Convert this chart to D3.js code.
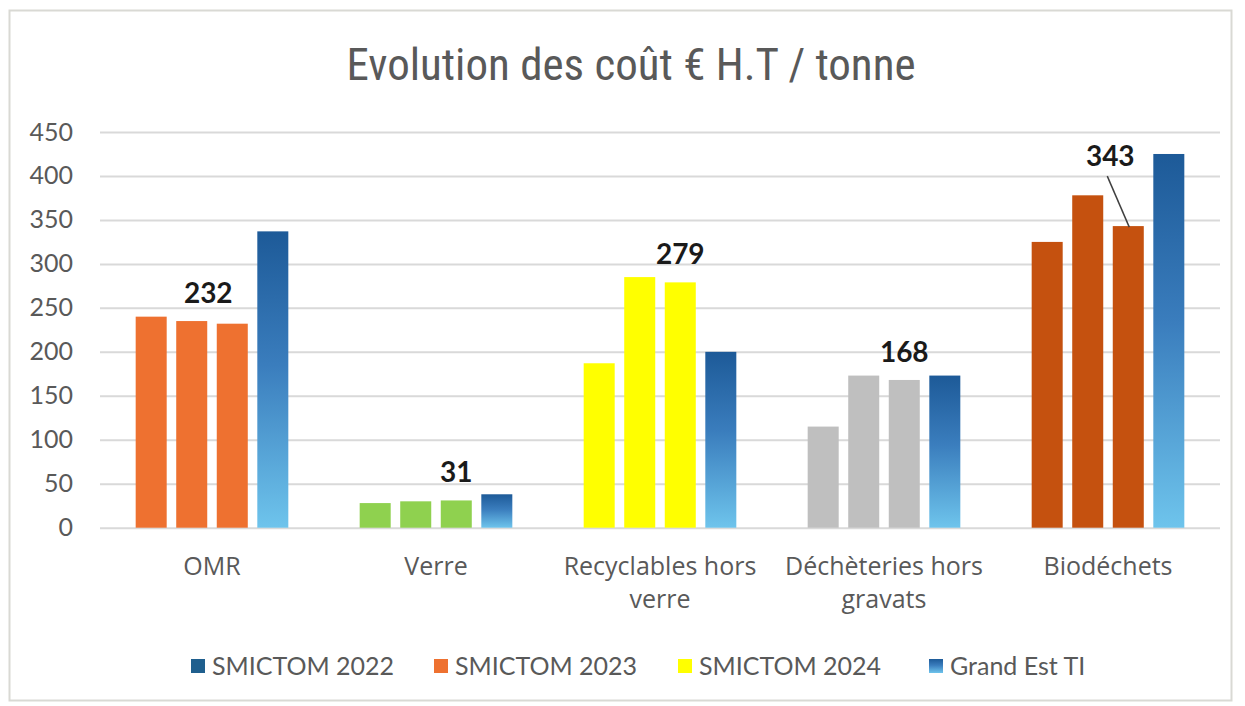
<!DOCTYPE html>
<html>
<head>
<meta charset="utf-8">
<script src="https://cdn.jsdelivr.net/npm/d3@7"></script>
<style>
  body { margin: 0; background: #fff; }
  svg { display: block; }
</style>
</head>
<body>
<svg id="chart"></svg>
<script>
const categories = ["OMR", "Verre", "Recyclables hors verre", "Déchèteries hors gravats", "Biodéchets"];
const series = ["SMICTOM 2022", "SMICTOM 2023", "SMICTOM 2024", "Grand Est TI"];
const smictom2022 = [240, 28, 187, 115, 325];
const smictom2023 = [235, 30, 285, 173, 378];
const smictom2024 = [232, 31, 279, 168, 343];
const grandEst = [337, 38, 200, 173, 425];
const yTicks = [0, 50, 100, 150, 200, 250, 300, 350, 400, 450];
// colours of the three SMICTOM bars in each category
const categoryColors = ["#ee7130", "#8fd14f", "#ffff00", "#bfbfbf", "#c5510f"];
const legendColors = ["#1f5f8e", "#ee7130", "#ffff00", null];

const width = 1245, height = 706;
const margin = { left: 100, right: 25, top: 132, bottom: 179 };

const svg = d3.select("#chart").attr("width", width).attr("height", height);

const defs = svg.append("defs");
const grad = defs.append("linearGradient")
  .attr("id", "blueGrad").attr("x1", 0).attr("y1", 0).attr("x2", 0).attr("y2", 1);
grad.append("stop").attr("offset", "0%").attr("stop-color", "#1d5a98");
grad.append("stop").attr("offset", "45%").attr("stop-color", "#3a7dbd");
grad.append("stop").attr("offset", "100%").attr("stop-color", "#6ec4ec");

// chart frame
svg.append("rect")
  .attr("x", 9.5).attr("y", 10.5)
  .attr("width", 1222).attr("height", 690)
  .attr("fill", "#fff").attr("stroke", "#d9d9d4").attr("stroke-width", 2);

svg.append("text")
  .attr("x", 631).attr("y", 80)
  .attr("text-anchor", "middle")
  .attr("font-family", "'Liberation Sans Narrow', 'Roboto Condensed', sans-serif")
  .attr("font-size", 45)
  .attr("fill", "#595959")
  .text("Evolution des coût € H.T / tonne");

const x0 = d3.scaleBand()
  .domain(categories)
  .range([margin.left, width - margin.right])
  .padding(0);

const x1 = d3.scaleBand()
  .domain(series)
  .range([0, x0.bandwidth()])
  .paddingInner(0.235)
  .paddingOuter(0.88);

const y = d3.scaleLinear()
  .domain([0, 450])
  .range([height - margin.bottom + 0.7, margin.top]);

// grid + y labels
const yAxis = svg.append("g")
  .attr("transform", `translate(${margin.left},0)`)
  .call(d3.axisLeft(y).tickValues(yTicks).tickSize(-(width - margin.left - margin.right)).tickPadding(27))
  .call(g => g.select(".domain").remove());
yAxis.selectAll(".tick line").attr("stroke", "#d9d9d9").attr("stroke-width", 2);
yAxis.selectAll(".tick text")
  .attr("font-family", "Lato, sans-serif")
  .attr("font-size", 25)
  .attr("fill", "#595959");

const valuesBySeries = [smictom2022, smictom2023, smictom2024, grandEst];
const rows = categories.map((c, i) => ({
  category: c,
  index: i,
  values: series.map((s, j) => ({ series: s, j, value: valuesBySeries[j][i] }))
}));

const groups = svg.append("g").selectAll("g")
  .data(rows)
  .join("g")
  .attr("transform", d => `translate(${x0(d.category)},0)`);

groups.selectAll("rect")
  .data(d => d.values.map(v => ({ ...v, index: d.index })))
  .join("rect")
  .attr("x", d => x1(d.series))
  .attr("width", x1.bandwidth())
  .attr("y", d => y(d.value))
  .attr("height", d => y(0) - y(d.value))
  .attr("fill", d => d.j === 3 ? "url(#blueGrad)" : categoryColors[d.index]);

// data labels on SMICTOM 2024 bars
const labelShift = { 0: [-24, -3], 4: [-18, -42] };
const labels = svg.append("g");
rows.forEach(r => {
  const v = r.values[2].value;
  const cx = x0(r.category) + x1(series[2]) + x1.bandwidth() / 2;
  const top = y(v);
  const s = labelShift[r.index] || [0, 0];
  const lx = cx + s[0], ly = top - 18 + s[1];
  if (r.index === 4) {
    labels.append("line")
      .attr("x1", lx - 3).attr("y1", ly + 10)
      .attr("x2", cx + 1).attr("y2", top + 1)
      .attr("stroke", "#404040").attr("stroke-width", 1.5);
  }
  labels.append("text")
    .attr("x", lx).attr("y", ly)
    .attr("text-anchor", "middle")
    .attr("font-family", "Lato, sans-serif")
    .attr("font-weight", "bold")
    .attr("font-size", 28)
    .attr("fill", "#1a1a1a")
    .text(v);
});

// category labels
const catLines = {
  "Recyclables hors verre": ["Recyclables hors", "verre"],
  "Déchèteries hors gravats": ["Déchèteries hors", "gravats"]
};
const cat = svg.append("g");
categories.forEach(c => {
  const lines = catLines[c] || [c];
  const t = cat.append("text")
    .attr("x", x0(c) + x0.bandwidth() / 2)
    .attr("y", 575)
    .attr("text-anchor", "middle")
    .attr("font-family", "'Open Sans', sans-serif")
    .attr("font-size", 25)
    .attr("fill", "#595959");
  lines.forEach((l, k) => {
    t.append("tspan").attr("x", x0(c) + x0.bandwidth() / 2).attr("dy", k === 0 ? 0 : 33).text(l);
  });
});

// legend
const legendX = [191, 434, 678, 929];
const legend = svg.append("g");
series.forEach((s, i) => {
  legend.append("rect")
    .attr("x", legendX[i]).attr("y", 659)
    .attr("width", 14).attr("height", 14)
    .attr("fill", legendColors[i] || "url(#blueGrad)");
  legend.append("text")
    .attr("x", legendX[i] + 21).attr("y", 675)
    .attr("font-family", "Lato, sans-serif")
    .attr("font-size", 25)
    .attr("fill", "#595959")
    .text(s);
});
</script>
</body>
</html>
